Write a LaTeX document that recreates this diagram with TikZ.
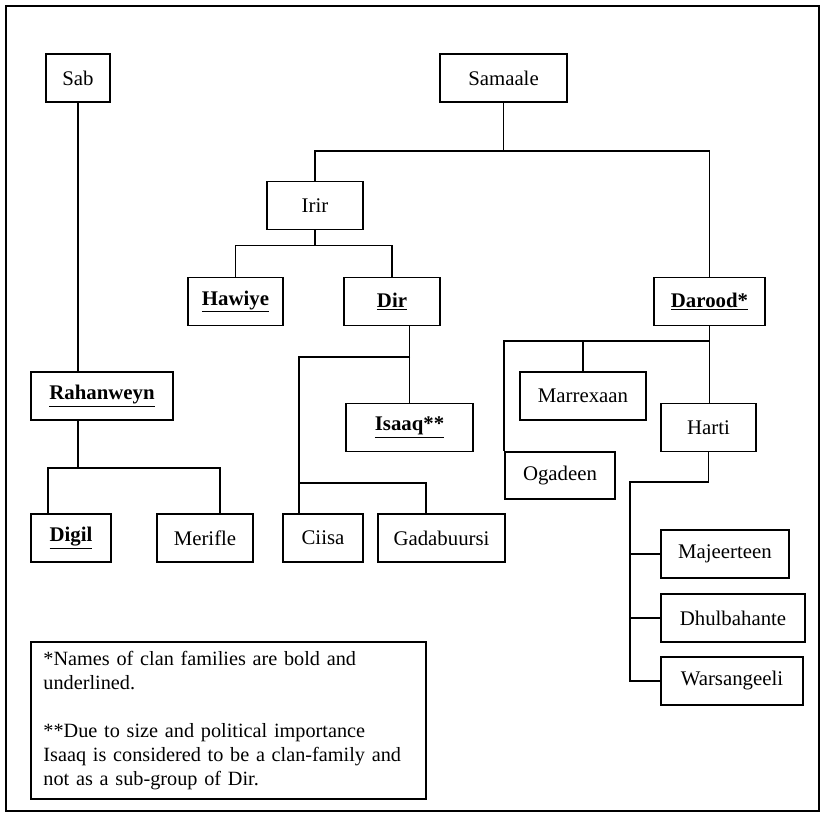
\documentclass[tikz,border=0pt]{standalone}
\usepackage{fontspec}
\setmainfont{Liberation Serif}
\usetikzlibrary{positioning}
\newcommand{\clanfont}{\fontsize{14.8}{17.1}\selectfont}
\newcommand{\notefont}{\fontsize{14.4}{17.1}\selectfont}
\newcommand{\clanfam}[1]{\underline{#1}}
\tikzset{
  % plain clan boxes
  clanbox/.style={draw, line width=1.4pt, minimum height=1.2cm, inner sep=0pt, font=\clanfont},
  % clan families: bold (text is underlined by hand)
  family/.style={clanbox, font=\clanfont\bfseries},
  % tree lines
  link/.style={line width=1.3pt},
  % outer page frame
  frameln/.style={line width=1pt},
}

\begin{document}
\begin{tikzpicture}[x=0.025cm, y=-0.025cm]
    \useasboundingbox (0,0) rectangle (826,814);
    % frame
    \draw[frameln] (6,6) rectangle (819,811);
    % top level
    \node[clanbox, minimum width=1.6cm] (sab) at (78,78) {Sab};
    \node[clanbox, minimum width=3.175cm] (samaale) at (503.5,78) {Samaale};
    % second level
    \node[clanbox, minimum width=2.4cm] (irir) at (315,205.5) {Irir};
    \node[family, minimum width=2.375cm] (hawiye) at (235.5,301.5) {\clanfam{Hawiye}};
    \node[family, minimum width=2.4cm] (dir) at (392,301.5) {\clanfam{Dir}};
    \node[family, minimum width=2.775cm] (darood) at (709.5,301.5) {\clanfam{Darood*}};
    % sub-groups
    \node[family, minimum width=3.55cm] (rahan) at (102,396) {\clanfam{Rahanweyn}};
    \node[clanbox, minimum width=3.15cm] (marrex) at (583,396) {Marrexaan};
    \node[family, minimum width=3.175cm] (isaaq) at (409.5,427.5) {\clanfam{Isaaq**}};
    \node[clanbox, minimum width=2.375cm] (harti) at (708.5,427.5) {Harti};
    \node[clanbox, minimum width=2.75cm, minimum height=1.175cm] (ogadeen) at (560,475.5) {Ogadeen};
    \node[family, minimum width=2cm] (digil) at (71,538) {\clanfam{Digil}};
    \node[clanbox, minimum width=2.4cm] (merifle) at (205,538) {Merifle};
    \node[clanbox, minimum width=2cm] (ciisa) at (323,538) {Ciisa};
    \node[clanbox, minimum width=3.175cm] (gadab) at (441.5,538) {Gadabuursi};
    \node[clanbox, minimum width=3.2cm] (majeer) at (725,554) {Majeerteen};
    \node[clanbox, minimum width=3.6cm] (dhul) at (733,618) {Dhulbahante};
    \node[clanbox, minimum width=3.55cm] (warsan) at (732,681) {Warsangeeli};
    % legend
    \node[draw, line width=1.4pt, minimum width=9.875cm, minimum height=3.925cm,
          text width=9.25cm, inner xsep=0.3125cm, inner ysep=0pt, align=left, font=\notefont]
      (legend) at (228.5,720.5)
      {*Names of clan families are bold and\\
       underlined.\\[17.1pt]
       **Due to size and political importance\\
       Isaaq is considered to be a clan-family and\\
       not as a sub-group of Dir.};
    % junction points
    \draw[link] (samaale.south) -- ++(0,48) coordinate (samJ);
    \draw[link] (irir.south) -- ++(0,15) coordinate (irJ);
    \coordinate (dirJ) at (410,357);
    \coordinate (ciisaJ) at (299,483);
    \coordinate (gadJ) at (426,483);
    \coordinate (rahJ) at (78,468);
    \coordinate (digJ) at (48,468);
    \coordinate (merJ) at (220,468);
    \coordinate (darJ) at (709.5,341);
    \coordinate (hartiJ) at (630,482);
    % Sab branch
    \draw[link] (sab.south) -- (sab.south |- rahan.north);
    \draw[link] (sab.south |- rahan.south) -- (rahJ);
    \draw[link] (digJ |- digil.north) -- (digJ) -- (merJ) -- (merJ |- merifle.north);
    % Samaale branch
    \draw[link] (irir.north) |- (samJ);
    \draw[link] (darood.north) |- (samJ);
    \draw[link] (hawiye.north) |- (irJ) -| (dir.north);
    % Dir
    \draw[link] (isaaq.north |- dir.south) -- (isaaq.north);
    \draw[link] (dirJ) -| (ciisaJ) -- (ciisaJ |- ciisa.north);
    \draw[link] (ciisaJ) -- (gadJ) -- (gadJ |- gadab.north);
    % Darood
    \draw[link] (darood.south) -- (darood.south |- harti.north);
    \draw[link] (darJ) -| (ogadeen.north west);
    \draw[link] (marrex.north) -- (marrex.north |- darJ);
    % Harti
    \draw[link] (harti.south) |- (hartiJ) |- (warsan.west);
    \draw[link] (majeer.west) -- (majeer.west -| hartiJ);
    \draw[link] (dhul.west) -- (dhul.west -| hartiJ);
\end{tikzpicture}
\end{document}
